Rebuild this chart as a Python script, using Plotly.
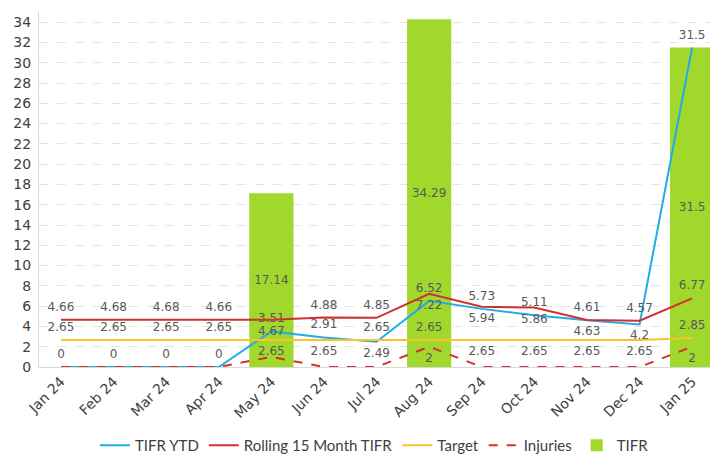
import plotly.graph_objects as go

months = ["Jan 24", "Feb 24", "Mar 24", "Apr 24", "May 24", "Jun 24", "Jul 24",
          "Aug 24", "Sep 24", "Oct 24", "Nov 24", "Dec 24", "Jan 25"]
tifr_ytd = [0, 0, 0, 0, 3.51, 2.91, 2.49, 6.52, 5.73, 5.11, 4.61, 4.2, 31.5]
rolling_15 = [4.66, 4.68, 4.68, 4.66, 4.67, 4.88, 4.85, 7.22, 5.94, 5.86, 4.63, 4.57, 6.77]
target = [2.65, 2.65, 2.65, 2.65, 2.65, 2.65, 2.65, 2.65, 2.65, 2.65, 2.65, 2.65, 2.85]
injuries = [0, 0, 0, 0, 1, 0, 0, 2, 0, 0, 0, 0, 2]
tifr = [0, 0, 0, 0, 17.14, 0, 0, 34.29, 0, 0, 0, 0, 31.5]
y_ticks = list(range(0, 35, 2))

# label visibility / placement (as in the reference)
ytd_show = [False] * 4 + [True] * 9
ytd_pos = ["top center"] * 6 + ["bottom center"] + ["top center"] * 4 + ["bottom center", "top center"]
roll_pos = ["top center"] * 4 + ["bottom center"] + ["top center"] * 2 + ["bottom center"] * 4 + ["top center"] * 2
tgt_pos = ["top center"] * 4 + ["bottom center"] * 2 + ["top center"] * 2 + ["bottom center"] * 4 + ["top center"]
inj_show = [True] * 4 + [False] * 3 + [True] + [False] * 4 + [True]
inj_pos = ["top center"] * 4 + ["top center"] * 3 + ["bottom center"] + ["top center"] * 4 + ["bottom center"]
bar_show = [v > 0 for v in tifr]


def fmt(v):
    return f"{v:g}"


LABEL_FONT = dict(family="DejaVu Sans", size=12, color="#595959")
BLUE = "#22ade6"
RED = "#d32f2f"
YELLOW = "#fdc22b"
GREEN = "#a0d82c"
# transparent markers: not visible, only push the value labels off the lines
HIDDEN_MARKER = dict(size=8, color="rgba(0,0,0,0)", line=dict(width=0))

fig = go.Figure()
fig.add_trace(go.Scatter(
    x=months, y=tifr_ytd, name="TIFR YTD", mode="lines+markers+text",
    line=dict(color=BLUE, width=2), marker=HIDDEN_MARKER,
    text=[fmt(v) if s else "" for v, s in zip(tifr_ytd, ytd_show)],
    textposition=ytd_pos, textfont=LABEL_FONT, cliponaxis=False))
fig.add_trace(go.Scatter(
    x=months, y=rolling_15, name="Rolling 15 Month TIFR", mode="lines+markers+text",
    line=dict(color=RED, width=2), marker=HIDDEN_MARKER,
    text=[fmt(v) for v in rolling_15],
    textposition=roll_pos, textfont=LABEL_FONT, cliponaxis=False))
fig.add_trace(go.Scatter(
    x=months, y=target, name="Target", mode="lines+markers+text",
    line=dict(color=YELLOW, width=2), marker=HIDDEN_MARKER,
    text=[fmt(v) for v in target],
    textposition=tgt_pos, textfont=LABEL_FONT, cliponaxis=False))
fig.add_trace(go.Scatter(
    x=months, y=injuries, name="Injuries", mode="lines+markers+text",
    line=dict(color=RED, width=2, dash="dash"), marker=HIDDEN_MARKER,
    text=[fmt(v) if s else "" for v, s in zip(injuries, inj_show)],
    textposition=inj_pos, textfont=LABEL_FONT, cliponaxis=False))
fig.add_trace(go.Bar(
    x=months, y=tifr, name="TIFR", marker=dict(color=GREEN, line=dict(width=0)),
    width=0.84,
    text=[fmt(v) if s else "" for v, s in zip(tifr, bar_show)],
    textposition="inside", insidetextanchor="middle", textangle=0,
    textfont=LABEL_FONT))

fig.update_layout(
    width=710, height=462,
    margin=dict(l=39, r=0, t=12, b=90),
    plot_bgcolor="white", paper_bgcolor="white",
    showlegend=True,
    legend=dict(orientation="h", x=0.5, xanchor="center", y=-0.222, yanchor="middle",
                font=dict(family="Lato", size=15, color="#404040"),
                traceorder="normal", itemwidth=30, tracegroupgap=0),
    xaxis=dict(range=[-0.418, 12.34], tickangle=-45, showgrid=False, automargin=False,
               showline=True, linecolor="#d9d9d9", linewidth=1, ticks="",
               tickfont=dict(family="DejaVu Sans", size=14, color="#404040")),
    yaxis=dict(range=[0, 35], tickvals=y_ticks, showgrid=True, automargin=False,
               gridcolor="#e4e4e4", griddash="dash", gridwidth=1,
               showline=True, linecolor="#d9d9d9", linewidth=1, zeroline=False,
               ticks="", ticklabelstandoff=4,
               tickfont=dict(family="DejaVu Sans", size=14, color="#404040")),
    bargap=0.16,
)

fig.write_html(
    "out.html",
    config={"displayModeBar": False},
    post_script="document.body.style.margin='0';document.body.style.overflow='hidden';",
)
